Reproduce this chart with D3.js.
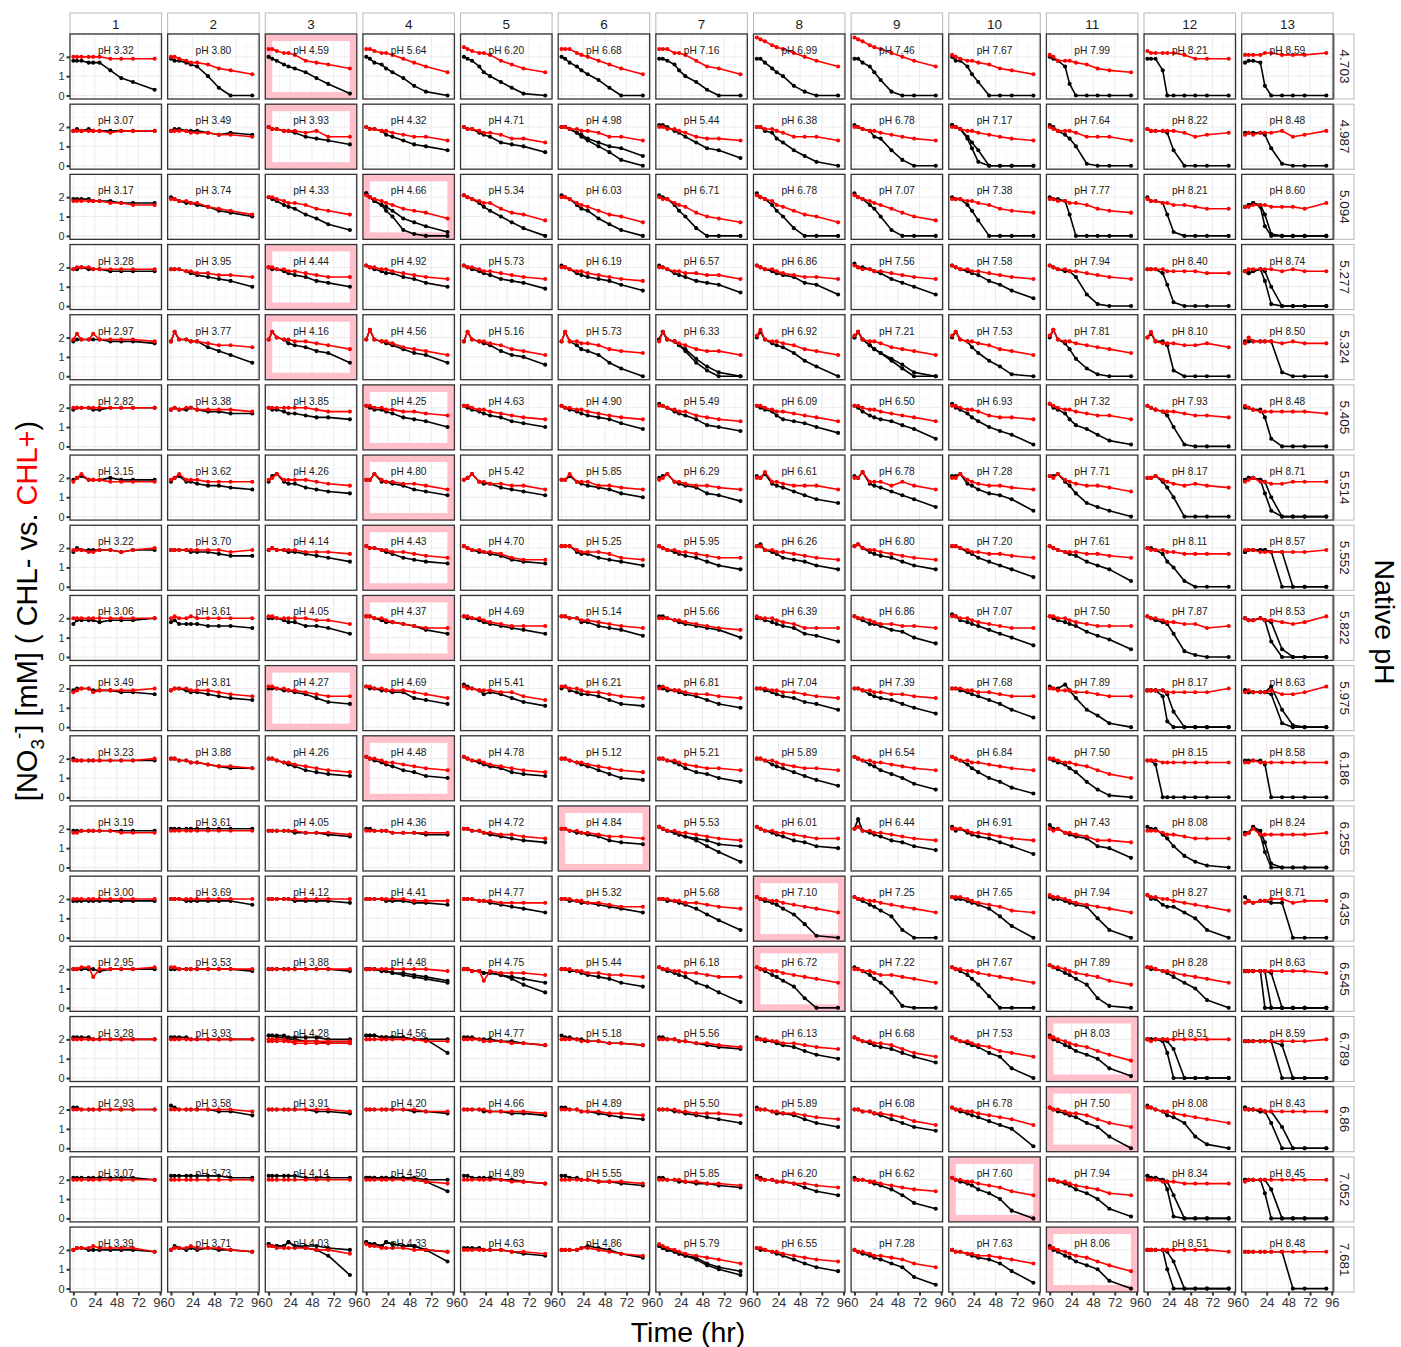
<!DOCTYPE html>
<html><head><meta charset="utf-8">
<script src="https://cdn.jsdelivr.net/npm/d3@7"></script>
<style>
body{margin:0;background:#fff}
svg{display:block}
text{font-family:"Liberation Sans",Arial,Helvetica,sans-serif}
</style>
</head><body>
<svg id="chart" width="1401" height="1347"></svg>
<script>
// ---------- DATA ----------
// sampling times (hr)
const timesHr = [0, 4, 9, 17, 22, 29, 41, 53, 66, 90];
// facet column labels (pH perturbation level) and row labels (native pH)
const columnLabels = ["1","2","3","4","5","6","7","8","9","10","11","12","13"];
const nativePH = ["4.703","4.987","5.094","5.277","5.324","5.405","5.514","5.552","5.822","5.975","6.186","6.255","6.435","6.545","6.789","6.86","7.052","7.681"];
// measured pH shown in every panel
const panelPH = [
 ["3.32","3.80","4.59","5.64","6.20","6.68","7.16","6.99","7.46","7.67","7.99","8.21","8.59"],
 ["3.07","3.49","3.93","4.32","4.71","4.98","5.44","6.38","6.78","7.17","7.64","8.22","8.48"],
 ["3.17","3.74","4.33","4.66","5.34","6.03","6.71","6.78","7.07","7.38","7.77","8.21","8.60"],
 ["3.28","3.95","4.44","4.92","5.73","6.19","6.57","6.86","7.56","7.58","7.94","8.40","8.74"],
 ["2.97","3.77","4.16","4.56","5.16","5.73","6.33","6.92","7.21","7.53","7.81","8.10","8.50"],
 ["2.82","3.38","3.85","4.25","4.63","4.90","5.49","6.09","6.50","6.93","7.32","7.93","8.48"],
 ["3.15","3.62","4.26","4.80","5.42","5.85","6.29","6.61","6.78","7.28","7.71","8.17","8.71"],
 ["3.22","3.70","4.14","4.43","4.70","5.25","5.95","6.26","6.80","7.20","7.61","8.11","8.57"],
 ["3.06","3.61","4.05","4.37","4.69","5.14","5.66","6.39","6.86","7.07","7.50","7.87","8.53"],
 ["3.49","3.81","4.27","4.69","5.41","6.21","6.81","7.04","7.39","7.68","7.89","8.17","8.63"],
 ["3.23","3.88","4.26","4.48","4.78","5.12","5.21","5.89","6.54","6.84","7.50","8.15","8.58"],
 ["3.19","3.61","4.05","4.36","4.72","4.84","5.53","6.01","6.44","6.91","7.43","8.08","8.24"],
 ["3.00","3.69","4.12","4.41","4.77","5.32","5.68","7.10","7.25","7.65","7.94","8.27","8.71"],
 ["2.95","3.53","3.88","4.48","4.75","5.44","6.18","6.72","7.22","7.67","7.89","8.28","8.63"],
 ["3.28","3.93","4.28","4.56","4.77","5.18","5.56","6.13","6.68","7.53","8.03","8.51","8.59"],
 ["2.93","3.58","3.91","4.20","4.66","4.89","5.50","5.89","6.08","6.78","7.50","8.08","8.43"],
 ["3.07","3.73","4.14","4.50","4.89","5.55","5.85","6.20","6.62","7.60","7.94","8.34","8.45"],
 ["3.39","3.71","4.03","4.33","4.63","4.86","5.79","6.55","7.28","7.63","8.06","8.51","8.48"]
];
// NO3- (mM) series, one character per time point: base-36 digit = tenths of mM
// ('0'..'9' = 0.0..0.9, 'a'=1.0, 'k'=2.0, 'u'=3.0). Replicates separated by a space.
const chlMinus = [
 ["iiihhhd973","jiihgfa400","kjigfec961","kjhgec9520","kjifca7410","kjhfdb8400","jjigda7300","jjheca5200","jjhfc82000","kiifb70000","kjif600000","jjjd000000","hiih500000"],
 ["ijijiiiiii","ijjiiihghg","kjjiihfedb","kjjigfdba8","kjjhgfcba7","kkjhgeca95 kkjhfda730","llkihfc984","kkihec8520","lkjife8300","lkjfc80000 lkje920000","lkigea1000","jiiih80000","hhhhg91000"],
 ["jjjjiiihhh","kjihhgfdca","kjigfeb963","mkigda3100 mkigfd9752","lkjhfda740","lkjged9630","lkjgda4000","mkjgda4000","mkjgea3000","kjjgd80000","kjjib00000","kiihb20000","fghf500000 fghgb10000"],
 ["jjkjjjiiii","jjjihgfeda","kjjihgfdca","lkjihhfeca","lkjihgedc9","lkjhgfedb8","lkjhgfdcb7","lkjihgfcb6","mkkjiheca6","lkjihgdb84","lkjiif6100","jjjhb20000","ihijd10000 ihijia0000"],
 ["ijjjjjiiih","injjiifdb7","jnkjhgfdc7","jojihgecb7","injihgdba6","inigedb740","jnjige9520 jnjigd7300","knjhgfc850","knjgec8400 knjgec9620","knjifc8510","kojhe94100","kmiig30000","iiiiii2000"],
 ["jkkkjjkkkk","jkjjkjiihh","kjjihhgffe","lkjjihfeda","lkjihgfdca","lkjihgfec9","mlkihgeba8","lkjigedca7","lkigfedb94","mkjhfda861","mkjheb9631","lkjiga1000","kkjjf40000"],
 ["jkljjjkjjj","ikliihggfe","ilmihhfedc","jjmiihgedb","jkmihhfedb","jjlihgfeca","klmihgfcb8","lkmhgfdb97","lknhgfdb95","llmhgecb93","llmigc7530","kklifa0000","jkkjc30000 jkkjia0000"],
 ["ikjjjjjijj","jjjjiiihgg","jkjjiihgfd","lkkjihfedc","lkjiihgedc","lllihhfedb","lkjihgfdb9","lmjihfedb9","lmkihgfdb9","llkihfdb95","lkjihgdb93","kkjhda3000","ijjjji0000 ijjjjii000"],
 ["hjjjjijjjk","ijhhhhgggf","kkkjiiggfc","llkjiihgec","lkkjihgfec","llkkiigfeb","llkjihgfea","kkjihgfcb8","lkjhhgeda7","mljihgeca6","lkjihgdb94","lkjihc3100","kjjkj80000 kjjkji4000"],
 ["jkkkjjjiih","jkkjiihgfe","kkkjjihfdc","lkkjjiifec","mlkjhihfdb","kljihhgecb","lkjjihgeca","kkjihgfdc9","kkjhgfeca7","kkjihgec95","lkkmjf9620","jjjg300000 jjjjh80000","jiiiil9100 jiiiih2000"],
 ["kjjjjjjjjj","kkjjiihgff","kkjihgedcb","lkjihgedba","lkjihgfdcb","kkjihgeca9","kkjihfdca8","kkjhgfdb96","lkjhgeca74","lkjhfda852","kjihfd8410","jjh0000000","jjjjh00000"],
 ["jjjjjjjjjj","kkkkkkkkkk","jjjjjiiihg","kkjjjiiihh","kkjjihgfed","kkjiihgedc","lkjihgfecb lkjihgeb83","lkjihgedba","kpjihgedb9","ljkihgfdb7","mkkihgfba5","lkkhfb6310","iiljd20000 iilh800000"],
 ["jjjjjjjjjj","kkkjjjjjjh","kkkkkjjjji","kkkkjjjiih","kkkjjihgfd","kkjjiihgfd","kkjjihfc94","lkjihfc710","lkjhgeb400","lkkjihfb60","lkkjihga40","mkkhggda40","ljijjii000"],
 ["kkkkkjkkkk","kkkkkkkkkj","kkkkkkkkkj","kkkjjiihge kkkjjihgfd","kkjjiihgfd kkjjiihfc8","kkjjihgfdb","lkjihgdb83","lkjhgeb500","lkjhfd8100","lkjhfc6000","mlkihfc510","lkkjigda40","jjjj000000 jjjjj00000 jjjjji0000"],
 ["llllkkkkkk","llllkkkkkk","mmmmllllkk mmllkkjjii","mmmllllkkk mmmllllkkd","lllkkkjjih","mllkkjjiih","llkkjjihgf","lkjjihgeca","lkjihgfdb8","lkjihgdb50","mkjhgeca51","kkkjd00000 kkkkjf0000","jjjjjj0000 jjjjjjh000"],
 ["llkkkkkkkk","mlkkkkkjjh","kkkkkkkjji","kkkkkkkjji","kkkkjjjiih","llkkjjihgf","kkkjjihgfd","lkkjiihfdb","kkjjihfdb9","lkjihgeca1","lkjihgdb60","mlkjhgd620","lkkjjd0000 lkkjjjb000"],
 ["lllllllllk","mmmmmmmmll","mmmmmmllll","llllllllkk lllllllkje","mmllllkkji","mmllkkjjih","llkkjjiihg","mlkkjjigec","lkkjihfc85","lkjihfda40","kkjihfda51","mllkf10000 mllkjc0000","kkkkd00000 kkkkkf0000"],
 ["kllkkkkkkj","kmlklklkkj","nmmmommmlk nmmmomlkh7","onnmonmmkj onnmonmmke","llllkkkjih","kkkklmlkig","mlkjihgdb9 mlkjihfca7","lkkjihfdb9","kjihgfdb62","kjjihgfd93","mkjhgeca40","kkkka00000 kkkkje0000","jjjjjjj000"]
];
const chlPlus = [
 ["kkkkkkjjjj","kkjihhgedb","oonmmlihge","oonmmljhfc","ponmmligec","ooomlkigeb","ooommlifeb","utsqpomkif","utsqpomkif","lkjiihgedb","lkiiihgedc","nmmmmmljjj","llllmmlllm"],
 ["iiiiiihiii","iiiihhhggf","kjjiiihiff","kjjiihgffd","kjjihhgeec","kkjjiihffd","kkjjihfeed","kkjjihfffd","kkjiihgfed","kkjiihgfed","kjiiihfffd","jiiiiihfgh","ghghhhifgi"],
 ["iiiiiihhgg","jjiihhfedb","kkjihhgedb","lkjihgedc9","lkjihhecb8","kkjhgfdba7","kjjhgfca97","lkjigfdba7","lkjihgeca8","jjjiihgedc","jjiihhgedc","jiihhggfee","ffgggfffeh"],
 ["jkkkjjjjjj","jjjiihhggf","kkjjiihgff","lkkjjihgfe","lkkjiihgfe","kkjiihgfed","kkjiihhgge","lkjjihgffe","lkjjiihgfe","lkjjiihgfe","lkjjiihgfe","jjjjiiiihh","ijjjjjijii"],
 ["jmjjmjjjji","injjiihggf","jnkjjiihge","jojiihfedb","injiihgedb","iniihhgedc","injihgeddb","lojiihgedb","lnjiihfedb","lnjiihgedb","lojiihgfec","knihhhgghf","hkiiiihihh"],
 ["kkkkkkkkkk","jkjkkjjjji","kkkkkkkjii","llkkjjiihg","llkjjihgfe","lkkjjihgfe","llkjiigfed","llkjiihgfd","llkjjihgfd","llkjjigffe","mlkjjihgge","lkjiiihggf","lkjiiiiiih"],
 ["ikmjjjiiii","jkmjjjiiii","jkmjjjjihg","jjmjiihhge","jkmiihhgge","jjmiiiggfe","jkmiihggfe","kkniihggge","kkniiigige","kkmjihggfe","lkmjihggfd","kkljihghgf","ijkiihhiii"],
 ["jjjiijjijk","jjjjjjjjij","jkjjjjiiih","lkkjjiihgf","lkjjiihfee","llljiiihfe","lkjjiihgff","lljjiihgfe","lmkjjihgfe","llkjiihhgf","lkjiiihhgf","kjjjiihhhh","jjjiiiiiij"],
 ["kkkkkkkkkk","klkklkkkkk","llkkkkkjjh","llkkjihgff","llkkjihggg","llkkjjihgf","kkkjjihgfe","lkkkjihfff","lkkjihhggf","llkkjihgff","llkkjihggg","lkkjiihhfg","kjjkjjihil"],
 ["ijkkijjjjk","jkkkjjjihg","llkkjjihgg","llkkjjjihf","lkkjjjiige","llkkjiihgf","klkjjihhgf","kkkjjiihgf","kkjjiihhgf","kkkjjiihgg","kkjjjiihgg","jjjjiiiiik","ijiiijhhil"],
 ["jjjjjjjjjk","kkjjiihggf","kkjiihgfed","lkkjiihgfe","lkjjihgfed","kkjiihgfed","kkjjihgffe","kkjjihgffe","lkjjiihgfe","lkjjiihgfe","kkjiihgeca","jjjiiiiiii","iijiiiiiii"],
 ["iijjjjjiii","jjjjjjjjjj","jjjjjjiiih","jjjjjiiiii","kkjjiihhgf","kkjjiihggf","lkjjiihgfe","lkjjiihgff","kljjiihgfe","kkkjiihgfe","kjkiihgeed","jjjihhgfff","hikhhhhhhi"],
 ["kkkkkkkkkk","kkkkkkkkkk","kkkkkkkkkk","kkkkkkkjjj","kkkjjjiiii","kkkjjiihgg","kkkjjiihgf","lkkjjihgfd","lkkjjihgfd","lllkjihged","mllkjihgfd","mllkkjihge","ijijjkkijj"],
 ["kkllgkkkkl","llkkkkkkkk","kkkkkkkkkk","kkkkkkkkkj","kkjjejiiih","kkkjjiihhg","lkkjjiihgg","lkkjjihgfd","kkjjihhgfd","lkkjjihgfd","mllkjihgec","llkjjihgfd","jjjjjjjjji"],
 ["kkkkkkkkkk","kkkkkkkkkk","kkkkjjjjjj jjjjjiiiii","kkkkkkkkjj","kkkkjjjiih","kkkkjjjiih","kkkkjjiihg","kkkjjiihgf","lkjjiihfdb","lkjjihgedb","llkjihgec9","kjkkkkkkkk","jjjjjjjjjk"],
 ["kkkkkkkkkk","kkkkkkkkkj","kkkkkkkkkj","kkkkkkkkjj","kkkkkjjjji","kkkkjjjiih","kkkkjjiiih","kkkjjiihgf","kkjjiihgec","lkkjjihgfc","lkkjiihfdb","llkjjihgfd","kkkkjjjjjj"],
 ["kkkkkkkkkk","kkkkkkkkkk","kkkkkkkkkk","kkkkkkkkji","kkkkkkkjji","kkkkkkjjji","kkkkkjjiih","lkkkjjiihg","kkkjjihgfe","lkkjjihgec","kkjjihgfdc","kkkjjjiiii","jkkkkkkkkk"],
 ["klllmllllj","klllmlllkj","mmlllllkki","nmmllllkkj","kkkkkkkjji","kkkkllkjih","nmlkjihgfd","llkjjihgfe","kjjihhgfdb","kjjiihhgfd","llkjihgec9","kkkkkkkkkj","jjjjjjjjjj"]
];
// highlighted panels [row, column] (0-based)
const highlighted = [[0,2],[1,2],[2,3],[3,2],[4,2],[5,3],[6,3],[7,3],[8,3],[9,2],[10,3],[11,5],[12,7],[13,7],[14,10],[15,10],[16,9],[17,10]];
const xTicks = [0, 24, 48, 72, 96];
const yTicks = [0, 1, 2];

// ---------- LAYOUT ----------
const LEFT = 70, TOP = 34, COLSTEP = 97.64, ROWSTEP = 70.18, PW = 91.5, PH = 65;
const svg = d3.select("#chart");
svg.append("rect").attr("width", 1401).attr("height", 1347).attr("fill", "#fff");

const x = d3.scaleLinear().domain([-3.7, 97.6]).range([0, PW]);
const y = d3.scaleLinear().domain([-0.18, 3.18]).range([PH, 0]);
const decode = s => Array.from(s, ch => parseInt(ch, 36) / 10);
const line = d3.line().x((d, i) => x(timesHr[i])).y(d => y(d));
const hiSet = new Set(highlighted.map(d => d[0] + "-" + d[1]));

const colX = c => LEFT + c * COLSTEP;
const rowY = r => TOP + r * ROWSTEP;

// top strips
columnLabels.forEach((lab, c) => {
  const g = svg.append("g").attr("transform", `translate(${colX(c)},13)`);
  g.append("rect").attr("width", PW).attr("height", 21).attr("fill", "#fff").attr("stroke", "#b8b8b8").attr("stroke-width", 1);
  g.append("text").attr("x", PW / 2).attr("y", 15.5).attr("text-anchor", "middle")
    .attr("font-size", 13.5).attr("fill", "#1a1a1a").text(lab);
});
// right strips
nativePH.forEach((lab, r) => {
  const g = svg.append("g").attr("transform", `translate(1334.5,${rowY(r)})`);
  g.append("rect").attr("width", 19.5).attr("height", PH).attr("fill", "#fff").attr("stroke", "#b8b8b8").attr("stroke-width", 1);
  g.append("text").attr("transform", `translate(5.5,${PH / 2}) rotate(90)`).attr("text-anchor", "middle")
    .attr("font-size", 13.5).attr("fill", "#1a1a1a").text(lab);
});

const minorX = [12, 36, 60, 84], minorY = [0.5, 1.5, 2.5];

panelPH.forEach((rowArr, r) => {
  rowArr.forEach((ph, c) => {
    const g = svg.append("g").attr("transform", `translate(${colX(c)},${rowY(r)})`);
    g.append("rect").attr("width", PW).attr("height", PH).attr("fill", "#fff");
    // grid
    g.selectAll(".mx").data(minorX).join("line").attr("x1", d => x(d)).attr("x2", d => x(d)).attr("y1", 0).attr("y2", PH)
      .attr("stroke", "#f4f4f4").attr("stroke-width", 0.6);
    g.selectAll(".my").data(minorY).join("line").attr("y1", d => y(d)).attr("y2", d => y(d)).attr("x1", 0).attr("x2", PW)
      .attr("stroke", "#f4f4f4").attr("stroke-width", 0.6);
    g.selectAll(".gx").data(xTicks).join("line").attr("x1", d => x(d)).attr("x2", d => x(d)).attr("y1", 0).attr("y2", PH)
      .attr("stroke", "#ebebeb").attr("stroke-width", 1);
    g.selectAll(".gy").data(yTicks).join("line").attr("y1", d => y(d)).attr("y2", d => y(d)).attr("x1", 0).attr("x2", PW)
      .attr("stroke", "#ebebeb").attr("stroke-width", 1);
    // highlight frame
    if (hiSet.has(r + "-" + c)) {
      g.append("rect").attr("x", 3.5).attr("y", 3.5).attr("width", PW - 7).attr("height", PH - 7)
        .attr("fill", "none").attr("stroke", "#ffc0cb").attr("stroke-width", 7);
    }
    // series
    const drawSeries = (codeStr, color) => {
      codeStr.split(" ").forEach(code => {
        const vals = decode(code);
        g.append("path").attr("d", line(vals)).attr("fill", "none").attr("stroke", color)
          .attr("stroke-width", 1.6).attr("stroke-linejoin", "round");
        g.selectAll(null).data(vals).join("circle").attr("cx", (d, i) => x(timesHr[i])).attr("cy", d => y(d))
          .attr("r", 2.05).attr("fill", color);
      });
    };
    drawSeries(chlMinus[r][c], "#000000");
    drawSeries(chlPlus[r][c], "#ff0000");
    // pH label
    g.append("text").attr("x", PW / 2).attr("y", 20).attr("text-anchor", "middle")
      .attr("font-size", 10.2).attr("fill", "#1a1a1a").text("pH " + ph);
    // border
    g.append("rect").attr("width", PW).attr("height", PH).attr("fill", "none").attr("stroke", "#333").attr("stroke-width", 1.3);
  });
});

// y axes (first column)
nativePH.forEach((_, r) => {
  const ax = svg.append("g").attr("transform", `translate(${LEFT},${rowY(r)})`)
    .call(d3.axisLeft(y).tickValues(yTicks).tickSize(3.5).tickPadding(2).tickFormat(d3.format("d")));
  ax.select(".domain").remove();
  ax.selectAll(".tick line").attr("stroke", "#333").attr("stroke-width", 2);
  ax.selectAll(".tick text").attr("font-size", 11).attr("fill", "#333").attr("font-family", "Liberation Sans, Arial, sans-serif");
});
// x axes (last row)
columnLabels.forEach((_, c) => {
  const ax = svg.append("g").attr("transform", `translate(${colX(c)},${rowY(17) + PH})`)
    .call(d3.axisBottom(x).tickValues(xTicks).tickSize(3.5).tickPadding(2).tickFormat(d3.format("d")));
  ax.select(".domain").remove();
  ax.selectAll(".tick line").attr("stroke", "#333").attr("stroke-width", 2);
  ax.selectAll(".tick text").attr("font-size", 13).attr("fill", "#333").attr("font-family", "Liberation Sans, Arial, sans-serif");
});

// axis titles
svg.append("text").attr("x", 688).attr("y", 1342).attr("text-anchor", "middle").attr("font-size", 28.5).attr("fill", "#000").text("Time (hr)");
svg.append("text").attr("transform", "translate(1375,622) rotate(90)").attr("text-anchor", "middle")
  .attr("font-size", 28.5).attr("fill", "#000").text("Native pH");
const yt = svg.append("text").attr("transform", "translate(37,611) rotate(-90)").attr("text-anchor", "middle")
  .attr("font-size", 29).attr("fill", "#000");
yt.append("tspan").text("[NO");
yt.append("tspan").attr("font-size", 19).attr("dy", 7).text("3");
yt.append("tspan").attr("font-size", 19).attr("dy", -19).text("-");
yt.append("tspan").attr("dy", 12).text("] [mM]  ( CHL- vs. ");
yt.append("tspan").attr("fill", "#ff0000").text("CHL+");
yt.append("tspan").text(")");
</script>
</body></html>
